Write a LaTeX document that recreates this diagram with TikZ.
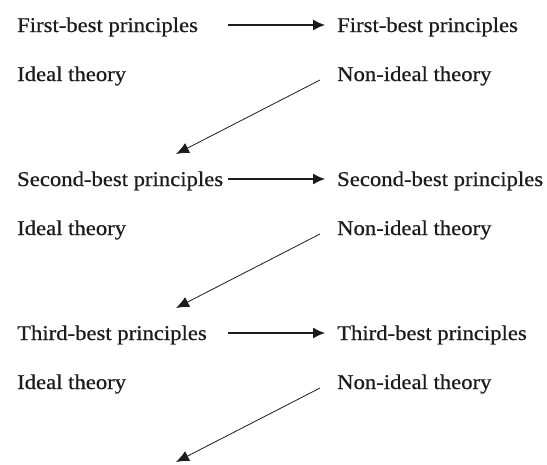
\documentclass[tikz,border=0pt]{standalone}
\usepackage{fontspec}
\setmainfont{Liberation Serif}[FakeStretch=1.08,FakeBold=0.6]
\usetikzlibrary{arrows.meta}
\definecolor{ink}{HTML}{1C1C1C}
\tikzset{
  lbl/.style={anchor=base west, inner sep=0pt, text=ink, font=\fontsize{21}{24}\selectfont},
  link/.style={draw=ink, line width=1.1pt, -{Latex[length=12pt,width=11pt]}},
  slant/.style={draw=ink, line width=0.8pt, -{Latex[length=13pt,width=11pt]}}
}
\begin{document}
\begin{tikzpicture}[x=1pt,y=1pt]
  \useasboundingbox (0,0) rectangle (547,-464);
  \foreach \k/\word in {0/First,1/Second,2/Third}{
    \pgfmathsetmacro{\dy}{-154*\k}
    \begin{scope}[yshift=\dy]
      \node[lbl] (pl\k) at (17,-32) {\word-best principles};
      \node[lbl] (pr\k) at (337,-32) {\word-best principles};
      \node[lbl] (il\k) at (17,-81) {Ideal theory};
      \node[lbl] (nr\k) at (337,-81) {Non-ideal theory};
      % horizontal link between the two principle labels
      \coordinate (hs\k) at (228,-25);
      \coordinate (he\k) at (325,-25);
      \draw[link] (hs\k) -- (he\k);
      % slanted link from the non-ideal label down to the next level
      \coordinate (ds\k) at (320,-80);
      \coordinate (de\k) at (176,-154);
      \draw[slant] (ds\k) -- (de\k);
    \end{scope}
  }
\end{tikzpicture}
\end{document}
